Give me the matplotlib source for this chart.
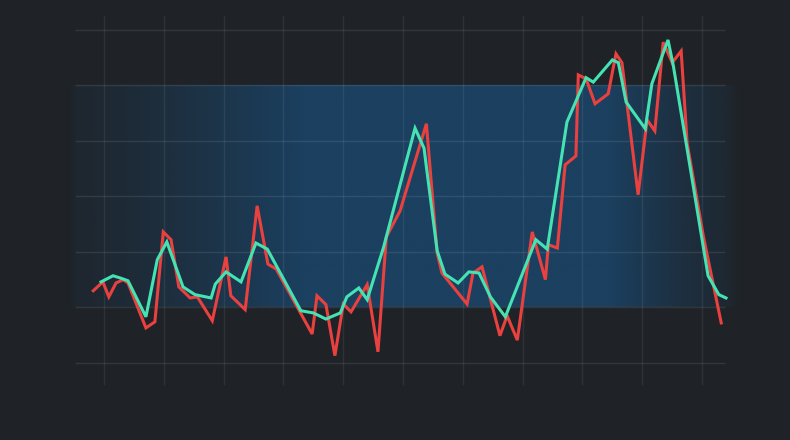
import numpy as np
import matplotlib
matplotlib.use("Agg")
import matplotlib.pyplot as plt

# price (red) and smoothed line (teal), x in days, y in value units
red_x = [-1.8, -0.2, 0.8, 2.0, 3.2, 4.0, 7.0, 8.5, 9.9, 11.2, 12.5, 14.4, 15.6, 18.1,
         20.4, 21.2, 23.6, 25.6, 27.4, 28.8, 34.8, 35.6, 37.1, 38.6, 40.0, 41.3, 44.0,
         45.8, 47.2, 49.5, 53.9, 55.7, 56.5, 60.7, 61.7, 63.2, 66.2, 67.4, 69.1, 71.6,
         73.8, 74.3, 75.8, 77.1, 78.9, 79.3, 80.6, 82.1, 84.3, 85.6, 86.6, 89.3, 90.8,
         92.1, 93.5, 95.0, 96.5, 97.5, 100.2, 101.3, 103.2]
red_y = [13.0, 14.6, 11.9, 14.4, 15.0, 14.4, 6.3, 7.4, 23.6, 22.2, 13.7, 11.7, 11.9, 7.6,
         19.1, 12.1, 9.6, 28.3, 17.8, 16.9, 5.2, 12.1, 10.5, 1.3, 10.6, 9.2, 14.1,
         2.0, 22.7, 27.4, 43.1, 19.8, 16.2, 10.6, 16.2, 17.3, 4.9, 8.5, 4.1, 23.6,
         15.0, 21.3, 20.7, 35.7, 37.3, 51.9, 51.2, 46.7, 48.5, 55.7, 54.1, 30.3, 43.8,
         41.8, 57.8, 54.1, 56.2, 39.6, 22.9, 17.1, 7.2]

teal_x = [-0.5, 1.5, 2.7, 4.0, 7.0, 8.9, 10.5, 13.2, 15.2, 17.9, 18.6, 20.4, 22.9, 25.4,
          27.3, 32.9, 35.0, 37.1, 39.5, 40.6, 42.6, 44.0, 46.7, 52.0, 53.5, 55.7, 57.0,
          59.2, 61.0, 62.7, 64.6, 67.1, 72.2, 74.1, 77.4, 80.6, 81.8, 85.0, 86.0, 87.3,
          90.5, 91.6, 94.3, 95.2, 101.0, 102.8, 104.0]
teal_y = [14.6, 15.7, 15.3, 14.8, 8.3, 18.6, 21.8, 13.7, 12.3, 11.7, 14.2, 16.4, 14.6, 21.6,
          20.5, 9.4, 9.0, 7.9, 9.0, 11.9, 13.5, 11.4, 20.7, 42.3, 38.7, 20.2, 16.0,
          14.4, 16.4, 16.2, 11.9, 8.3, 22.2, 20.5, 43.4, 51.4, 50.6, 54.6, 54.1, 47.0,
          42.2, 50.3, 58.2, 53.5, 15.7, 12.3, 11.7]

x_grid = np.arange(0, 101, 10)
y_grid = np.arange(0, 61, 10)
band_low, band_high = 10, 50

bg = "#1f2226"
fig = plt.figure(figsize=(7.9, 4.4), dpi=100, facecolor=bg)
ax = fig.add_axes([0, 0, 1, 1])
ax.set_facecolor(bg)
ax.set_xlim(-17.4, 114.7)
ax.set_ylim(-13.9, 65.4)
ax.axis("off")

# band with horizontal fade
t = np.linspace(0, 1, 400)
alpha = np.clip(np.minimum(t / 0.35, (1 - t) / 0.2), 0, 1) ** 1.3
alpha = 0.15 + 0.85 * alpha
alpha[t < 0.02] *= t[t < 0.02] / 0.02
alpha[t > 0.97] *= (1 - t[t > 0.97]) / 0.03
rgba = np.zeros((1, len(t), 4))
rgba[..., 0] = 27 / 255
rgba[..., 1] = 64 / 255
rgba[..., 2] = 96 / 255
rgba[..., 3] = alpha
ax.imshow(rgba, extent=[-6.5, 107.2, band_low, band_high], aspect="auto",
          interpolation="bilinear", zorder=1)

# grid
ax.hlines(y_grid, -4.9, 103.8, color="#ffffff", alpha=0.09, lw=1, zorder=2)
ax.vlines(x_grid, -4.0, 62.7, color="#ffffff", alpha=0.07, lw=1, zorder=2)

ax.plot(red_x, red_y, color="#e8413f", lw=2.2, solid_joinstyle="miter", zorder=3)
ax.plot(teal_x, teal_y, color="#45e3b4", lw=2.2, solid_joinstyle="miter", zorder=4)

fig.savefig("out.png", dpi=100, facecolor=bg)
